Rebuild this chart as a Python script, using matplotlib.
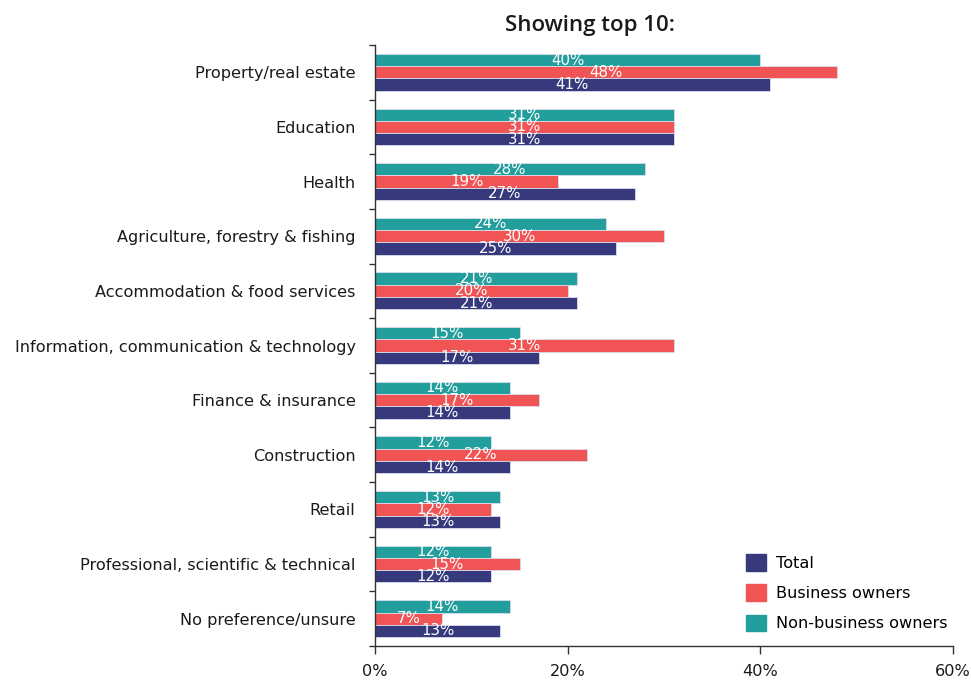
import matplotlib
matplotlib.use("Agg")
import matplotlib.pyplot as plt
import numpy as np
from matplotlib.patches import Patch

categories = [
    "Property/real estate",
    "Education",
    "Health",
    "Agriculture, forestry & fishing",
    "Accommodation & food services",
    "Information, communication & technology",
    "Finance & insurance",
    "Construction",
    "Retail",
    "Professional, scientific & technical",
    "No preference/unsure",
]
total = [41, 31, 27, 25, 21, 17, 14, 14, 13, 12, 13]
business_owners = [48, 31, 19, 30, 20, 31, 17, 22, 12, 15, 7]
non_business_owners = [40, 31, 28, 24, 21, 15, 14, 12, 13, 12, 14]
xticks = [0, 20, 40, 60]

c_total = "#363a7d"
c_bo = "#f05454"
c_nbo = "#229e9c"

fig = plt.figure(figsize=(9.71, 6.8), dpi=100)
ax = fig.add_axes([0.3862, 0.05, 0.5953, 0.8838])

n = len(categories)
y = np.arange(n)
h = 0.225
series = [
    (non_business_owners, -h, c_nbo, "Non-business owners"),
    (business_owners, 0, c_bo, "Business owners"),
    (total, h, c_total, "Total"),
]
for vals, off, col, name in series:
    bars = ax.barh(y + off, vals, height=h, color=col, edgecolor="#dcdcec",
                   linewidth=0.6)
    for b, v in zip(bars, vals):
        ax.text(v / 2, b.get_y() + b.get_height() / 2, f"{v}%",
                ha="center", va="center", color="white", fontsize=10.8,
                family="DejaVu Sans")

ax.set_ylim(n - 0.5, -0.5)
ax.set_xlim(0, 60)
ax.set_yticks(y)
ax.set_yticklabels(categories, fontsize=11.6, color="#1a1a1a")
ax.set_yticks(np.arange(n + 1) - 0.5, minor=True)
ax.tick_params(axis="y", which="major", length=0, pad=14)
ax.tick_params(axis="y", which="minor", length=4, width=1, color="#333333")
ax.set_xticks(xticks)
ax.set_xticklabels([f"{t}%" for t in xticks], fontsize=11.6, color="#1a1a1a")
ax.tick_params(axis="x", length=6, width=1, color="#333333", pad=7)
for s in ("top", "right"):
    ax.spines[s].set_visible(False)
for s in ("left", "bottom"):
    ax.spines[s].set_color("#333333")
    ax.spines[s].set_linewidth(1)

handles = [Patch(color=c_total, label="Total"),
           Patch(color=c_bo, label="Business owners"),
           Patch(color=c_nbo, label="Non-business owners")]
ax.legend(handles=handles, loc="lower right", bbox_to_anchor=(1.016, 0.0),
          frameon=False, fontsize=11.6, handlelength=1.2, handleheight=1.2,
          labelspacing=0.85, handletextpad=0.65)

fig.text(0.608, 0.963, "Showing top 10:", ha="center", va="center",
         fontsize=16, family="Open Sans", weight="semibold", color="#1a1a1a")

fig.savefig("out.png", dpi=100)
